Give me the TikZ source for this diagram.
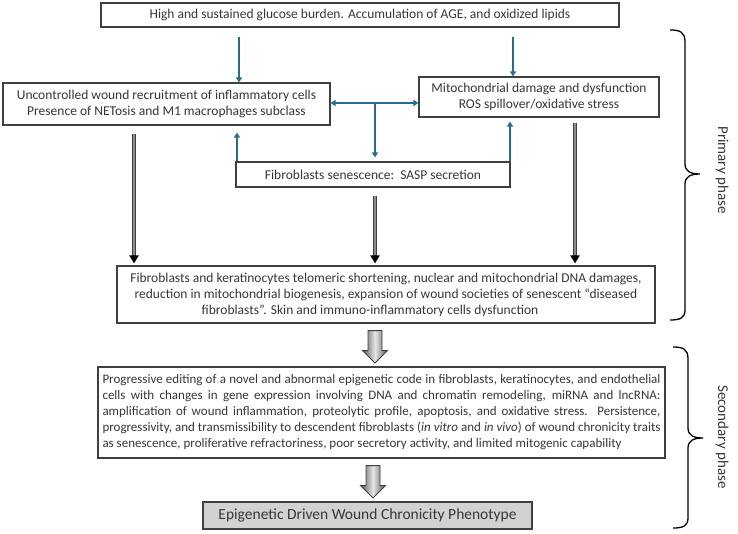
\documentclass[tikz,border=0pt]{standalone}
\usepackage{fontspec}
\setmainfont{Carlito}
\usetikzlibrary{arrows.meta,calc}
\definecolor{txt}{HTML}{363636}
\definecolor{bord}{HTML}{404040}
\definecolor{blu}{HTML}{2A6C8C}
\definecolor{fillg}{HTML}{D2D2D2}
\definecolor{gline}{HTML}{8C8C8C}
\begin{document}
\begin{tikzpicture}[x=1pt,y=-1pt,
  box/.style={draw=bord, line width=1.1pt, inner sep=0pt, text=txt, align=center,
    font=\fontsize{13.5}{16}\selectfont},
  barrow/.style={draw=blu, line width=1.4pt, -{Triangle[width=6pt,length=5pt]}},
  darrow/.style={draw=blu, line width=1.4pt, {Triangle[width=6pt,length=5pt]}-{Triangle[width=6pt,length=5pt]}},
  garrow/.style={draw=bord, line width=3.4pt, -{Triangle[width=9pt,length=8pt,color=black]},
    postaction={draw=gline, line width=1.5pt, -, shorten >=8pt}},
  blockarr/.style={draw=bord, line width=0.9pt, left color=gray!70!black, right color=gray!70!black, middle color=gray!20},
  bracestyle/.style={draw=black, line width=1.3pt},
  phase/.style={rotate=-90, text=txt, font=\fontsize{15}{18}\selectfont}]
\useasboundingbox (0,0) rectangle (738,533);

% boxes
\node[box, minimum width=518, minimum height=24] (top) at (360,15)
  {High and sustained glucose burden. Accumulation of AGE, and oxidized lipids};
\node[box, minimum width=327, minimum height=42] (left) at (166.5,104)
  {Uncontrolled wound recruitment of inflammatory cells\\Presence of NETosis and M1 macrophages subclass};
\node[box, minimum width=240, minimum height=40] (mito) at (539,97)
  {Mitochondrial damage and dysfunction\\ROS spillover/oxidative stress};
\node[box, minimum width=274, minimum height=25] (sasp) at (373,174.5)
  {Fibroblasts senescence:\ \ SASP secretion};
\node[box, minimum width=538, minimum height=57] (big) at (386,294.5)
  {Fibroblasts and keratinocytes telomeric shortening, nuclear and mitochondrial DNA damages,\\
   reduction in mitochondrial biogenesis, expansion of wound societies of senescent “diseased\\
   fibroblasts”. Skin and immuno-inflammatory cells dysfunction\hspace*{32pt}};
\node[box, minimum width=567, minimum height=91, text width=558, align=justify,
  font=\fontsize{13}{16}\selectfont] (sec) at (381.5,412.5)
  {Progressive editing of a novel and abnormal epigenetic code in fibroblasts, keratinocytes, and endothelial\linebreak
   cells with changes in gene expression involving DNA and chromatin remodeling, miRNA and lncRNA:\linebreak
   amplification of wound inflammation, proteolytic profile, apoptosis, and oxidative stress. Persistence,\linebreak
   progressivity, and transmissibility to descendent fibroblasts (\textit{in vitro} and \textit{in vivo}) of wound chronicity traits\linebreak
   as senescence, proliferative refractoriness, poor secretory activity, and limited mitogenic capability};
\node[box, minimum width=329, minimum height=27, fill=fillg, line width=1.4pt,
  font=\fontsize{15.5}{18}\selectfont] (final) at (367.5,515.5)
  {Epigenetic Driven Wound Chronicity Phenotype};

% reference x / y positions
\coordinate (xa) at (239,0);
\coordinate (xb) at (513,0);
\coordinate (xc) at (375,0);
\coordinate (xd) at (237,0);
\coordinate (xe) at (510,0);
\coordinate (xg1) at (134,0);
\coordinate (xg3) at (575,0);
\coordinate (yd) at (0,103);

% blue connectors
\draw[barrow] ($(top.south -| xa)+(0,9)$) -- (left.north -| xa);
\draw[barrow] ($(top.south -| xb)+(0,9)$) -- (mito.north -| xb);
\draw[darrow] (left.east |- yd) -- (mito.west |- yd);
\draw[barrow] (xc |- yd) -- ($(sasp.north -| xc)+(0,-4)$);
\draw[barrow] (sasp.north -| xd) -- ($(left.south -| xd)+(0,7)$);
\draw[barrow] (sasp.north -| xe) -- ($(mito.south -| xe)+(0,4)$);

% gray connectors
\draw[garrow] ($(left.south -| xg1)+(0,8)$) -- ($(big.north -| xg1)+(0,-2)$);
\draw[garrow] ($(sasp.south -| xc)+(0,8)$) -- ($(big.north -| xc)+(0,-2)$);
\draw[garrow] ($(mito.south -| xg3)+(0,5)$) -- ($(big.north -| xg3)+(0,-2)$);

% block arrows
\coordinate (b1) at ($(big.south -| xc)+(0,7)$);
\shade[blockarr] (b1) ++(-7,0) -- ++(14,0) -- ++(0,20) -- ++(5.5,0) -- ++(-12.5,12.5)
  -- ++(-12.5,-12.5) -- ++(5.5,0) -- cycle;
\coordinate (b2) at ($(sec.south -| xc)+(-2,7)$);
\shade[blockarr] (b2) ++(-7,0) -- ++(14,0) -- ++(0,20) -- ++(5.5,0) -- ++(-12.5,12.5)
  -- ++(-12.5,-12.5) -- ++(5.5,0) -- cycle;

% braces
\draw[bracestyle] (670,30) .. controls (680,30) and (685,32) .. (685,42) -- (685,164)
  .. controls (685,171) and (690,174) .. (700,174)
  .. controls (690,174) and (685,177) .. (685,184) -- (685,310)
  .. controls (685,318) and (680,320) .. (670,320);
\draw[bracestyle] (673,347) .. controls (683,347) and (688,349) .. (688,359) -- (688,428)
  .. controls (688,435) and (693,438) .. (703,438)
  .. controls (693,438) and (688,441) .. (688,448) -- (688,518)
  .. controls (688,526) and (683,528) .. (673,528);
\node[phase] (pp) at (722,170) {Primary phase};
\node[phase] (sp) at (722,437) {Secondary phase};
\end{tikzpicture}
\end{document}
